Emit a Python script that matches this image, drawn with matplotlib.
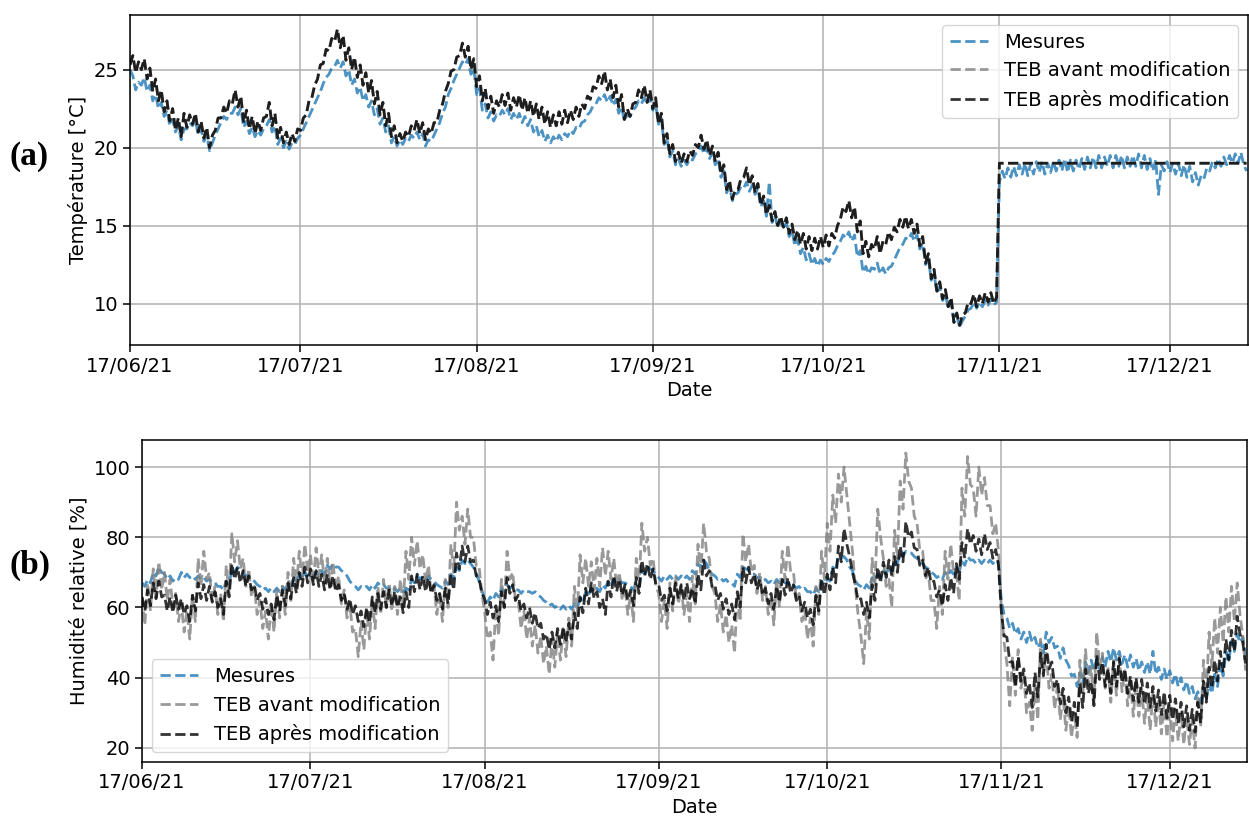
import pandas as pd
import matplotlib
matplotlib.use("Agg")
import matplotlib.pyplot as plt
import matplotlib.dates as mdates

# Values, one value every 12 h (00h, 12h) from 17/06/21
start_date = "2021-06-17"

# (a) Temperature [°C]
temp_mesures = [
    25.0, 24.6, 23.7, 24.2, 24.0, 24.5, 23.6, 24.0, 23.0, 23.4, 22.5, 22.9, 22.0, 22.4, 21.4, 21.8, 21.0, 21.4, 20.5, 21.2,
    21.2, 21.6, 21.4, 21.8, 20.8, 21.2, 20.4, 20.8, 19.8, 20.3, 20.8, 21.2, 21.6, 22.0, 21.8, 22.2, 22.2, 22.6, 22.1, 22.5,
    21.3, 21.7, 20.9, 21.3, 20.7, 21.1, 20.8, 21.2, 21.4, 21.8, 21.0, 21.4, 20.2, 20.6, 20.0, 20.4, 19.9, 20.3, 20.2, 20.6,
    20.8, 21.2, 21.6, 22.0, 22.4, 22.8, 23.2, 23.6, 24.1, 24.5, 24.7, 25.1, 25.2, 25.6, 25.1, 25.5, 24.6, 25.0, 24.0, 24.4,
    23.5, 23.9, 23.0, 23.4, 22.6, 23.0, 22.1, 22.5, 21.5, 21.9, 21.0, 21.4, 20.3, 20.7, 20.1, 20.5, 20.2, 20.6, 20.4, 20.8,
    20.6, 21.0, 20.5, 20.9, 20.1, 20.5, 20.4, 20.8, 21.2, 21.6, 22.2, 22.6, 23.4, 23.8, 24.3, 24.7, 25.1, 25.5, 25.3, 25.7,
    24.7, 25.1, 23.4, 23.8, 22.4, 22.8, 21.9, 22.3, 21.7, 22.1, 22.0, 22.4, 22.1, 22.5, 21.8, 22.2, 21.8, 22.2, 21.6, 22.0,
    21.4, 21.8, 21.0, 21.4, 20.7, 21.1, 20.4, 20.8, 20.3, 20.7, 20.4, 20.8, 20.5, 20.9, 20.7, 21.1, 20.9, 21.3, 21.2, 21.6,
    21.7, 22.1, 22.3, 22.7, 22.8, 23.2, 23.0, 23.4, 22.9, 23.3, 22.7, 23.1, 22.2, 22.6, 21.7, 22.1, 22.0, 22.4, 22.6, 23.0,
    22.8, 23.2, 22.8, 23.2, 22.4, 22.8, 21.5, 21.9, 20.2, 20.6, 19.4, 19.8, 18.9, 19.3, 18.8, 19.2, 18.9, 19.3, 19.2, 19.6,
    19.7, 20.1, 19.6, 20.0, 19.3, 19.7, 18.9, 19.3, 18.1, 18.5, 17.1, 17.5, 16.6, 17.0, 17.1, 17.5, 17.4, 17.8, 17.2, 17.6,
    17.0, 17.4, 16.2, 16.6, 15.6, 17.8, 15.2, 15.6, 14.9, 15.3, 14.8, 15.2, 14.3, 14.7, 13.7, 14.1, 13.2, 13.6, 12.8, 13.2,
    12.5, 12.9, 12.4, 12.8, 12.5, 12.9, 12.7, 13.1, 13.3, 13.7, 14.0, 14.4, 14.2, 14.6, 14.0, 14.4, 13.0, 13.4, 12.0, 12.4,
    11.9, 12.3, 12.2, 12.6, 11.9, 12.3, 11.9, 12.3, 12.4, 12.8, 13.2, 13.6, 13.8, 14.2, 14.1, 14.5, 14.0, 14.4, 13.5, 13.9,
    12.5, 12.9, 11.5, 11.9, 10.7, 11.1, 10.2, 10.6, 9.7, 10.1, 8.8, 9.2, 8.5, 8.9, 9.2, 9.6, 9.7, 10.1, 9.7, 10.1,
    9.8, 10.2, 9.9, 10.3, 9.9, 10.1,
    17.8, 18.5, 18.0, 18.7, 18.1, 18.8, 18.2, 18.9, 18.3, 19.0, 18.2, 19.0, 18.3, 19.1,
    18.4, 19.1, 18.3, 19.0, 18.4, 19.1, 18.5, 19.2, 18.5, 19.3, 18.4, 19.2, 18.5, 19.2, 18.6, 19.3, 18.6, 19.4, 18.7, 19.4,
    18.7, 19.5, 18.7, 19.4, 18.8, 19.5, 18.7, 19.5, 18.8, 19.5, 18.7, 19.4, 18.8, 19.5, 18.8, 19.6, 18.7, 19.5, 18.6, 19.3,
    18.5, 19.2, 17.0, 18.9, 18.5, 19.1, 18.4, 19.0, 18.3, 19.0, 18.2, 18.9, 18.1, 18.8, 17.8, 18.4, 17.6, 18.2, 18.0, 18.7,
    18.5, 19.1, 18.7, 19.3, 18.8, 19.4, 18.9, 19.5, 19.0, 19.6, 19.0, 19.7, 18.9, 18.5,
]

temp_teb_apres = [
    25.3, 25.9, 24.8, 25.5, 25.0, 25.7, 24.4, 25.1, 23.6, 24.4, 23.0, 23.7, 22.3, 23.0, 21.7, 22.5, 21.1, 21.9, 20.7, 22.2,
    21.3, 22.1, 21.5, 22.2, 21.0, 21.7, 20.6, 21.3, 20.0, 20.8, 21.1, 21.9, 21.9, 22.6, 22.2, 23.0, 22.8, 23.7, 22.6, 23.3,
    21.6, 22.4, 21.2, 22.0, 20.9, 21.7, 21.1, 21.9, 22.0, 22.9, 21.4, 22.2, 20.6, 21.3, 20.3, 21.0, 20.2, 20.9, 20.4, 21.2,
    21.1, 21.9, 22.1, 23.0, 23.2, 24.0, 24.4, 25.3, 25.4, 26.3, 26.2, 27.0, 26.8, 27.6, 26.4, 27.2, 25.6, 26.4, 25.0, 25.8,
    24.5, 25.3, 24.0, 24.8, 23.5, 24.3, 22.8, 23.6, 22.1, 22.9, 21.4, 22.2, 20.7, 21.4, 20.3, 20.9, 20.4, 21.0, 20.7, 21.4,
    21.1, 21.8, 20.9, 21.6, 20.5, 21.2, 20.9, 21.6, 21.6, 22.4, 22.8, 23.6, 24.1, 24.9, 25.0, 25.8, 25.9, 26.7, 25.8, 26.5,
    25.0, 25.7, 23.9, 24.6, 23.0, 23.8, 22.5, 23.3, 22.2, 23.0, 22.6, 23.4, 22.7, 23.5, 22.4, 23.2, 22.6, 23.4, 22.4, 23.2,
    22.2, 23.0, 22.0, 22.8, 21.8, 22.6, 21.5, 22.3, 21.3, 22.1, 21.4, 22.3, 21.5, 22.4, 21.6, 22.4, 21.8, 22.6, 22.0, 22.8,
    22.5, 23.3, 23.1, 23.9, 23.8, 24.6, 24.1, 24.9, 23.7, 24.4, 23.2, 24.0, 22.6, 23.4, 21.8, 22.5, 22.0, 22.8, 22.9, 23.7,
    23.2, 24.0, 22.9, 23.7, 22.5, 23.2, 21.5, 22.2, 20.3, 20.9, 19.6, 20.2, 19.1, 19.7, 19.0, 19.6, 19.1, 19.8, 19.5, 20.2,
    20.0, 20.8, 19.9, 20.5, 19.5, 20.1, 19.1, 19.7, 18.3, 18.9, 17.3, 17.9, 16.7, 17.3, 17.3, 18.0, 18.1, 18.7, 17.6, 18.2,
    17.1, 17.7, 16.3, 16.9, 15.7, 16.3, 15.3, 15.9, 15.0, 15.6, 14.9, 15.5, 14.5, 15.1, 14.1, 14.7, 13.8, 14.5, 13.5, 14.3,
    13.4, 14.2, 13.5, 14.3, 13.6, 14.4, 13.7, 14.5, 14.2, 15.0, 15.4, 16.2, 15.9, 16.6, 15.5, 16.2, 14.6, 15.3, 13.2, 14.0,
    13.0, 13.8, 13.5, 14.3, 13.2, 14.0, 13.8, 14.6, 14.1, 14.9, 14.6, 15.4, 14.9, 15.6, 14.8, 15.4, 14.5, 15.1, 13.7, 14.3,
    12.6, 13.2, 11.6, 12.2, 10.8, 11.4, 10.3, 10.9, 9.8, 10.4, 8.8, 9.4, 8.6, 9.3, 9.4, 10.1, 10.0, 10.6, 9.8, 10.5,
    10.0, 10.7, 10.1, 10.7, 10.0, 10.4,
    19.0, 19.0, 19.0, 19.0, 19.0, 19.0, 19.0, 19.0, 19.0, 19.0, 19.0, 19.0, 19.0, 19.0,
    19.0, 19.0, 19.0, 19.0, 19.0, 19.0, 19.0, 19.0, 19.0, 19.0, 19.0, 19.0, 19.0, 19.0, 19.0, 19.0, 19.0, 19.0, 19.0, 19.0,
    19.0, 19.0, 19.0, 19.0, 19.0, 19.0, 19.0, 19.0, 19.0, 19.0, 19.0, 19.0, 19.0, 19.0, 19.0, 19.0, 19.0, 19.0, 19.0, 19.0,
    19.0, 19.0, 19.0, 19.0, 19.0, 19.0, 19.0, 19.0, 19.0, 19.0, 19.0, 19.0, 19.0, 19.0, 19.0, 19.0, 19.0, 19.0, 19.0, 19.0,
    19.0, 19.0, 19.0, 19.0, 19.0, 19.0, 19.0, 19.0, 19.0, 19.0, 19.0, 19.0, 19.0, 19.0,
]

# in (a) the two TEB curves lie on top of each other
temp_teb_avant = list(temp_teb_apres)

# (b) Relative humidity [%]
hum_mesures = [
    67, 66, 68, 67, 70, 69, 71.5, 70, 69.5, 68, 69, 67.5, 68.5, 68, 70, 68.5, 69.5, 68.5, 69, 68,
    69, 68, 68.5, 67.5, 68, 67, 67, 66, 66, 65, 67.5, 66.5, 71, 70, 71.5, 70.5, 70, 69, 69, 68,
    67.5, 66.5, 66, 65, 65.5, 64.5, 65.5, 64.5, 65.5, 64.5, 66, 65, 67, 66, 68.5, 67.5, 69.5, 68.5, 70, 69,
    69.5, 69, 70, 69, 70.5, 69.5, 72, 71, 72.5, 71.5, 71.5, 70.5, 70, 69, 67.5, 66.5, 66, 65, 66, 65.5,
    66, 65, 66.5, 65.5, 67, 66, 66.5, 65.5, 65.5, 64.5, 65.5, 64.5, 65.5, 64.5, 65.5, 65, 68, 67, 69, 68,
    69, 68, 69, 68, 67.5, 66.5, 66, 65.5, 67.5, 66.5, 69.5, 68.5, 71.5, 70.5, 73.5, 72.5, 73.5, 72.5, 71.5, 70,
    67.5, 65, 62.5, 61.5, 63, 62, 64, 63, 65.5, 64.5, 66.5, 65.5, 66, 65, 65, 64, 65, 64.5, 64.5, 64,
    64.5, 63.5, 63, 62, 61.5, 60.5, 61, 60, 60.5, 59.5, 60.5, 59.5, 60.5, 59.5, 61, 60, 62.5, 61.5, 64.5, 63.5,
    65.5, 64.5, 65.5, 64.5, 66.5, 65.5, 67.5, 66.5, 68, 67, 68, 67, 67, 66.5, 66, 65, 67, 66, 70.5, 69.5,
    71.5, 71, 70.5, 69.5, 68.5, 67.5, 69, 68, 69, 68, 69, 68, 69, 68, 69, 68, 70.5, 69.5, 72.5, 71.5,
    73.5, 72.5, 70.5, 69.5, 69, 68, 68.5, 67.5, 68, 67, 67, 66, 69.5, 68.5, 71.5, 71, 70.5, 69.5, 69.5, 68.5,
    68.5, 67.5, 68, 67, 67.5, 66.5, 68, 67, 68, 67, 67, 66, 66.5, 65.5, 66, 65, 65.5, 64.5, 64.5, 63.5,
    65.5, 64.5, 67.5, 66.5, 68.5, 67.5, 71.5, 70.5, 74.5, 74, 74.5, 73.5, 71.5, 70.5, 67.5, 66.5, 66, 65, 66.5, 65.5,
    68.5, 67.5, 69.5, 68.5, 70.5, 69.5, 71.5, 70.5, 73.5, 72.5, 75.5, 74.5, 76, 75.5, 75.5, 74.5, 74, 73, 72.5, 71.5,
    71, 70, 69.5, 68.5, 69, 68, 70, 69, 70.5, 69.5, 71.5, 70.5, 73, 72, 74.5, 73.5, 73.5, 72.5, 73.5, 72.5,
    73.5, 72.5, 73.5, 72.5, 73.5, 73,
    62, 58, 57, 54, 55.5, 52.5, 54, 51, 53, 50, 53, 50, 51.5, 48.5,
    50, 47, 53, 50, 51.5, 48.5, 49, 45.5, 48.5, 45, 43.5, 40.5, 41, 37.5, 41.5, 38.5, 44.5, 41.5, 45, 42,
    45.5, 42.5, 46, 43, 47.5, 44.5, 48.5, 45, 47.5, 44, 46.5, 43, 46.5, 43, 45.5, 42, 44.5, 41.5, 44.5, 41,
    47.5, 41, 43, 39.5, 42.5, 39.5, 42, 38.5, 41, 37.5, 40, 36.5, 39, 35.5, 37.5, 34, 36, 33, 37, 34,
    38.5, 35.5, 41, 37.5, 44, 40.5, 47.5, 44.5, 50.5, 47.5, 52.5, 50, 51.5, 46.5,
]

hum_teb_avant = [
    63, 55, 67, 59, 71, 63, 73, 65, 70, 62, 68, 60, 64, 56, 61, 53, 59, 51, 64, 56,
    74, 66, 76, 68, 70, 62, 66, 58, 64, 56, 72, 64, 81, 73, 79, 71, 74, 66, 71, 63,
    66, 58, 62, 54, 59, 51, 61, 53, 65, 57, 66, 58, 70, 62, 74, 66, 76, 68, 78, 70,
    75, 67, 77, 69, 75, 67, 74, 66, 73, 65, 69, 61, 65, 57, 61, 53, 54, 46, 56, 48,
    59, 51, 62, 54, 66, 58, 68, 60, 67, 59, 66, 58, 68, 60, 76, 68, 80, 72, 79, 71,
    75, 67, 72, 64, 66, 58, 64, 56, 68, 60, 78, 70, 90, 82, 86, 78, 88, 80, 80, 72,
    72, 64, 59, 51, 53, 45, 60, 52, 68, 60, 76, 68, 70, 62, 62, 54, 59, 51, 57, 49,
    55, 47, 52, 44, 49, 41, 51, 43, 53, 45, 54, 46, 57, 49, 66, 58, 75, 67, 74, 66,
    73, 65, 74, 66, 77, 69, 76, 68, 74, 66, 70, 62, 66, 58, 64, 56, 74, 66, 84, 76,
    80, 72, 74, 66, 64, 56, 62, 54, 67, 59, 69, 61, 66, 58, 64, 56, 69, 61, 78, 70,
    84, 76, 74, 66, 64, 56, 61, 53, 58, 50, 55, 47, 64, 56, 81, 73, 78, 70, 72, 64,
    70, 62, 66, 58, 63, 55, 68, 60, 76, 68, 78, 70, 70, 62, 64, 56, 59, 51, 57, 49,
    66, 58, 76, 68, 84, 76, 92, 84, 98, 90, 100, 92, 84, 76, 66, 58, 52, 44, 59, 51,
    74, 66, 88, 80, 74, 66, 68, 60, 82, 74, 96, 88, 104, 96, 94, 86, 84, 76, 76, 68,
    70, 62, 62, 54, 66, 58, 76, 68, 78, 70, 70, 62, 94, 86, 103, 95, 94, 86, 100, 92,
    97, 89, 89, 81, 84, 76,
    60, 50, 44, 32, 46, 35, 48, 37, 41, 30, 33, 25, 38, 28,
    51, 41, 47, 37, 41, 31, 38, 28, 35, 25, 32, 23, 30, 23, 45, 35, 48, 38, 43, 33,
    53, 43, 47, 37, 43, 33, 45, 35, 46, 36, 42, 32, 39, 29, 39, 29, 37, 27, 35, 25,
    36, 26, 34, 24, 33, 23, 32, 22, 31, 22, 30, 21, 29, 21, 28, 20, 35, 26, 45, 35,
    53, 43, 57, 47, 60, 50, 63, 53, 66, 56, 67, 58, 52, 42,
]

hum_teb_apres = [
    63, 59, 65, 60.5, 67, 62.5, 67.5, 63, 63.5, 59, 63, 58.5, 63.5, 59.5, 62.5, 58, 60.5, 56, 63.5, 59,
    67, 62.5, 66.5, 62, 66, 61.5, 64.5, 60, 62.5, 58, 67.5, 63, 72.5, 68, 71.5, 67, 70.5, 66, 69, 65,
    66.5, 62, 64, 59.5, 62.5, 58, 61, 56.5, 63.5, 59, 65, 60.5, 67, 62.5, 68.5, 64, 70, 66, 71.5, 67,
    71, 66.5, 70.5, 66, 69.5, 65, 69.5, 65, 69, 64.5, 66.5, 62, 64, 59.5, 62.5, 58, 60.5, 56, 59, 54.5,
    60, 55.5, 63, 58.5, 64, 59.5, 64.5, 60, 65, 60.5, 64.5, 60, 63, 58.5, 64.5, 60, 69, 64.5, 69.5, 65,
    69, 64.5, 68.5, 64, 66.5, 62, 64, 59.5, 65.5, 61, 69.5, 65, 75.5, 71, 77.5, 73, 77.5, 73, 73.5, 69,
    68.5, 64, 62.5, 58, 61.5, 57, 60.5, 56, 64.5, 60, 68.5, 64, 66.5, 62, 63.5, 59, 61, 57, 60, 55.5,
    58.5, 54, 55.5, 51, 52.5, 48, 53, 48.5, 54, 49.5, 54.5, 50, 55.5, 51, 58.5, 54, 63, 58.5, 65.5, 61,
    67, 62.5, 64.5, 60, 62.5, 58, 67.5, 63, 69, 64.5, 68, 63.5, 66.5, 62, 65, 60.5, 68.5, 64, 73.5, 69,
    72.5, 68, 71, 66.5, 66.5, 62, 63.5, 59, 65.5, 61, 67, 62.5, 66.5, 62, 67, 62.5, 65.5, 61, 69.5, 65,
    73.5, 69, 70.5, 66, 66.5, 62, 64, 59.5, 62.5, 58, 61, 56.5, 64.5, 60, 71.5, 67, 71.5, 67, 69.5, 65,
    68, 63.5, 65.5, 61, 64, 59.5, 66, 61.5, 68, 63.5, 68.5, 64, 66.5, 62, 63.5, 59, 61.5, 57, 59.5, 55,
    63.5, 59, 68, 63.5, 69.5, 65, 71.5, 67, 77.5, 73, 82.5, 78, 74.5, 70, 66.5, 62, 62.5, 58, 61.5, 57,
    66.5, 62, 71.5, 67, 73, 68.5, 73.5, 69, 74.5, 70, 77.5, 73, 84.5, 80, 81.5, 77, 76.5, 72, 73.5, 69,
    71.5, 67, 67.5, 63, 65, 60.5, 66.5, 62, 68.5, 64, 72.5, 68, 78.5, 74, 82.5, 78, 80.5, 76, 79.5, 75,
    81, 76.5, 78.5, 74, 76.5, 72,
    59, 52, 51.5, 44.5, 44.5, 37.5, 46, 39, 42.5, 35.5, 38.5, 31.5, 41.5, 34.5,
    47, 40.5, 49.5, 42.5, 44.5, 37.5, 39.5, 32.5, 37, 30, 34.5, 27.5, 33, 26, 38.5, 31.5, 42.5, 35.5, 39, 32,
    46.5, 39.5, 44.5, 37.5, 42.5, 35.5, 44.5, 37.5, 45.5, 38.5, 42.5, 35.5, 40.5, 33.5, 40, 33, 39.5, 32.5, 38.5, 31.5,
    37.5, 30.5, 36.5, 29.5, 36, 28.5, 35, 28, 34, 27, 33, 26, 32, 25, 31, 24.5, 33, 27, 39, 33,
    43, 37, 45, 39, 47.5, 41.5, 51, 45, 53.5, 47.5, 57.5, 52.5, 50, 44,
]

labels = ["Mesures", "TEB avant modification", "TEB après modification"]
colors = ["tab:blue", "gray", "black"]


def dates_for(values):
    return pd.date_range(start_date, periods=len(values), freq="12h")


fs = 14
fig = plt.figure(figsize=(12.49, 8.21), dpi=100)
ax1 = fig.add_axes([0.1041, 0.5798, 0.8951, 0.4019])
ax2 = fig.add_axes([0.1137, 0.0719, 0.8847, 0.3922])

for ax, series in [(ax1, [temp_mesures, temp_teb_avant, temp_teb_apres]),
                   (ax2, [hum_mesures, hum_teb_avant, hum_teb_apres])]:
    for vals, lab, col in zip(series, labels, colors):
        ax.plot(dates_for(vals), vals, linestyle="--", linewidth=2.0,
                color=col, alpha=0.8, label=lab)
    ax.set_xlim(pd.Timestamp(start_date), pd.Timestamp("2021-12-30 18:00"))
    ax.xaxis.set_major_locator(mdates.MonthLocator(bymonthday=17))
    ax.xaxis.set_major_formatter(mdates.DateFormatter("%d/%m/%y"))
    ax.grid(True, color="#b0b0b0", linewidth=1.1)
    ax.tick_params(labelsize=fs, length=4.8, width=1.1)
    for sp in ax.spines.values():
        sp.set_linewidth(1.1)
    ax.set_xlabel("Date", fontsize=fs)

ax1.set_ylim(7.35, 28.5)
ax1.set_yticks([10, 15, 20, 25])
ax1.set_ylabel("Température [°C]", fontsize=fs)
ax1.legend(loc="upper right", fontsize=fs)

ax2.set_ylim(16, 107.7)
ax2.set_yticks([20, 40, 60, 80, 100])
ax2.set_ylabel("Humidité relative [%]", fontsize=fs)
ax2.legend(loc="lower left", fontsize=fs)

# panel letters
fig.text(0.008, 1 - 157 / 821, "(a)", fontsize=24, fontweight="bold",
         family="Liberation Serif", va="center")
fig.text(0.008, 1 - 565 / 821, "(b)", fontsize=24, fontweight="bold",
         family="Liberation Serif", va="center")

fig.savefig("out.png", dpi=100)
